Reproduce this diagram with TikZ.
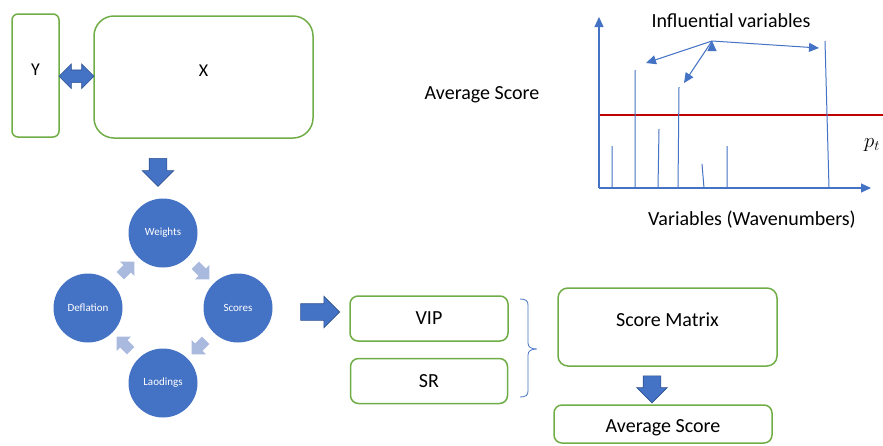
\documentclass[tikz,border=0pt]{standalone}
\usepackage{fontspec}
\setmainfont{Carlito}
\usepackage{xcolor}
\usepackage{tikz}
\usetikzlibrary{arrows,arrows.meta,positioning,calc,shapes.arrows}

\definecolor{bxgreen}{RGB}{112,173,71}
\definecolor{plsblue}{RGB}{68,114,196}
\definecolor{plsdark}{RGB}{47,82,143}
\definecolor{plslight}{RGB}{170,185,222}
\definecolor{ptred}{RGB}{192,0,0}

\begin{document}
\begin{tikzpicture}[x=1pt, y=-1pt,
		>={Triangle[length=10pt,width=9pt]},
		box/.style = {draw=bxgreen, line width=1.5pt, rounded corners=8pt, inner sep=0pt, font=\fontsize{20}{24}\selectfont},
		circ/.style = {circle, fill=plsblue, minimum size=69pt, inner sep=0pt, text=white, font=\fontsize{11}{13}\selectfont},
		blk/.style = {single arrow, fill=plsblue, draw=plsdark, line width=0.6pt, inner sep=0pt, single arrow head indent=0pt},
		lt/.style = {single arrow, fill=plslight, inner sep=0pt, inner ysep=5pt, minimum height=20pt, single arrow head extend=5pt, single arrow head indent=0pt},
		lbl/.style = {inner sep=0pt, font=\fontsize{20}{24}\selectfont},
		ax/.style = {->, plsblue, line width=1.2pt}
		]
		\useasboundingbox (0,0) rectangle (883,445);
		
		%data matrices
		\node (y) [box, rounded corners=6pt, minimum width=47pt, minimum height=123pt, text depth=11pt, font=\fontsize{18}{22}\selectfont] at (35.5,75.5) {Y};
		\node (x) [box, rounded corners=20pt, minimum width=219pt, minimum height=122pt, text depth=12pt, font=\fontsize{18}{22}\selectfont] at (203.5,77) {X};
		\node (yx) [double arrow, fill=plsblue, draw=plsdark, line width=0.6pt, inner sep=0pt, inner ysep=6pt, minimum height=35pt, double arrow head extend=6pt, double arrow head indent=0pt] at ($(y.east)!0.5!(x.west)$) {};
		\node (down1) [blk, rotate=-90, inner ysep=8.5pt, minimum height=28pt, single arrow head extend=7pt] at (158,168) {};
		
		%PLS cycle
		\coordinate (cyc) at (163,308);
		\node (wt) [circ] at ($(cyc)+(0,-75)$) {Weights};
		\node (sc) [circ] at ($(cyc)+(75,0)$)  {Scores};
		\node (la) [circ] at ($(cyc)+(0,75)$)  {Laodings};
		\node (de) [circ] at ($(cyc)+(-75,0)$) {Deflation};
		\node (wtsc) [lt, rotate=-45]  at ($(wt)!0.5!(sc)$) {};
		\node (scla) [lt, rotate=-135] at ($(sc)!0.5!(la)$) {};
		\node (lade) [lt, rotate=135]  at ($(la)!0.5!(de)$) {};
		\node (dewt) [lt, rotate=45]   at ($(de)!0.5!(wt)$) {};
		
		\node (right1) [blk, inner ysep=8pt, minimum height=39pt, single arrow head extend=7.5pt] at (316,312) {};
		
		%selection methods
		\node (vip) [box, minimum width=158pt, minimum height=45pt] at (429,318.5) {VIP};
		\node (sr) [box, minimum width=157pt, minimum height=45pt, below=16pt of vip] {SR};
		\coordinate (brt) at (520,299);
		\coordinate (brb) at (520,397);
		\draw[plsblue, line width=0.8pt] (brt)
		.. controls +(6,0) and +(0,-4) .. ++(8,6) -- ++(0,38)
		.. controls +(0,4) and +(-6,0) .. ++(9,6)
		.. controls +(-6,0) and +(0,-4) .. ++(-9,6) -- ++(0,36)
		.. controls +(0,4) and +(6,0) .. (brb);
		
		\node (sm) [box, rounded corners=10pt, minimum width=219pt, minimum height=78pt, text depth=14pt] at (667.5,327) {Score Matrix};
		\node (avg) [box, minimum width=218pt, minimum height=38pt, text height=20pt] at (663,424) {Average Score};
		\node (down2) [blk, rotate=-90, inner ysep=8.5pt, minimum height=27pt, single arrow head extend=6.5pt] at (652,385) {};
		
		%score plot
		\node (avl) [lbl] at (482,95) {Average Score};
		\node (inl) [lbl] at (731,21) {Influential variables};
		\node (wvl) [lbl] at (752,220) {Variables (Wavenumbers)};
		\node (pt) [lbl] at (872,145) {$p_t$};
		
		\coordinate (org) at (599,188);
		\coordinate (ytip) at (599,17);
		\coordinate (xtip) at (871,188);
		\draw[ax] (org) -- (ytip);
		\draw[ax] (org) -- (xtip);
		
		\draw[ptred, line width=2.5pt] (600,115) -- (883,115);
		
		\draw[plsblue, line width=1pt]
		(612,188) -- (612,146)
		(635,188) -- (635,70)
		(658,188) -- (659,129)
		(678,188) -- (679,87)
		(704,188) -- (702,164)
		(727,188) -- (727,146)
		(829,188) -- (825,41);
		
		\coordinate (inf) at (712,41);
		\draw[->, plsblue, line width=1pt]
		(inf) edge (646,63)
		(inf) edge (684,83)
		(inf) edge (819,48);
		
\end{tikzpicture}
\end{document}
